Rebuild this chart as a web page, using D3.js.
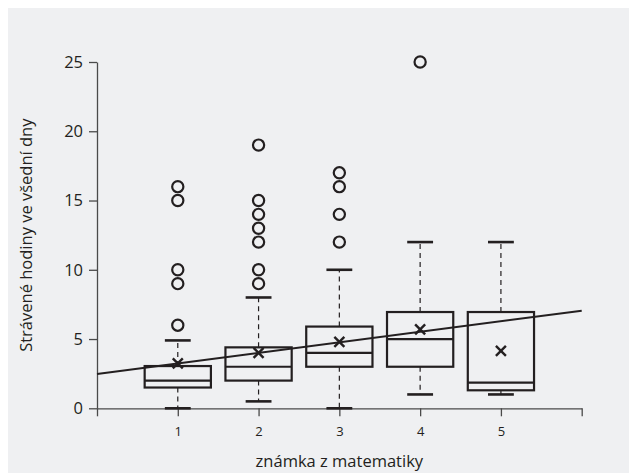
<!DOCTYPE html>
<html>
<head>
<meta charset="utf-8">
<script src="https://cdn.jsdelivr.net/npm/d3@7"></script>
<style>
  html, body { margin: 0; padding: 0; background: #ffffff; }
  svg { display: block; }
  .axis path, .axis line { stroke: #4a4a4a; stroke-width: 1.3; }
  .axis text { fill: #231f20; font-family: "Open Sans", sans-serif; font-weight: 500; }
</style>
</head>
<body>
<div id="chart"></div>
<script>
// ---- Data
const grades    = [1, 2, 3, 4, 5];
const whiskLow  = [0, 0.5, 0, 1, 1];
const q1        = [1.5, 2, 3, 3, 1.3];
const medians   = [2, 3, 4, 5, 1.85];
const q3        = [3.05, 4.4, 5.9, 6.95, 6.95];
const whiskHigh = [4.9, 8, 10, 12, 12];
const means     = [3.25, 4, 4.8, 5.7, 4.15];
const outliers  = [
    [6, 9, 10, 15, 16],
    [9, 10, 12, 13, 14, 15, 19],
    [12, 14, 16, 17],
    [25],
    []
];
const regX = [0, 6];
const regY = [2.48, 7.05];
const yTicks = [0, 5, 10, 15, 20, 25];
const xTicks = [0, 1, 2, 3, 4, 5, 6];

const W = 629, H = 473;
const ink = '#231f20';

const svg = d3.select('#chart').append('svg')
    .attr('width', W).attr('height', H);

// ---- Panel background
svg.append('rect')
    .attr('x', 8).attr('y', 8)
    .attr('width', W - 8).attr('height', H - 8)
    .attr('fill', '#eff0f2');

// ---- Scales
const x = d3.scaleLinear().domain([0, 6]).range([97, 581.7]);
const y = d3.scaleLinear().domain([0, 25]).range([408.3, 62]);
const boxW = x(0.82) - x(0);
const capW = x(0.32) - x(0);

// ---- Axes
const yAxis = svg.append('g').attr('class', 'axis')
    .attr('transform', `translate(${x(0)},0)`)
    .call(d3.axisLeft(y).tickValues(yTicks).tickSize(8).tickSizeOuter(0).tickPadding(6));
yAxis.selectAll('text').style('font-size', '16.5px');

const xAxis = svg.append('g').attr('class', 'axis')
    .attr('transform', `translate(0,${y(0)})`)
    .call(d3.axisBottom(x).tickValues(xTicks).tickSize(8).tickSizeOuter(0).tickPadding(10)
        .tickFormat(d => (d >= 1 && d <= 5) ? d : ''));
xAxis.selectAll('text').style('font-size', '13px');

// ---- Axis titles
svg.append('text')
    .attr('x', (x(0) + x(6)) / 2).attr('y', 467)
    .attr('text-anchor', 'middle')
    .attr('fill', ink)
    .style('font-family', '"Open Sans", sans-serif')
    .style('font-weight', 500)
    .style('font-size', '16.5px')
    .text('známka z matematiky');

svg.append('text')
    .attr('transform', `translate(32,${(y(0) + y(25)) / 2}) rotate(-90)`)
    .attr('text-anchor', 'middle')
    .attr('fill', ink)
    .style('font-family', '"Open Sans", sans-serif')
    .style('font-weight', 500)
    .style('font-size', '16.5px')
    .text('Strávené hodiny ve všední dny');

// ---- Boxes
const boxes = grades.map((g, i) => ({
    g, lo: whiskLow[i], q1: q1[i], med: medians[i], q3: q3[i], hi: whiskHigh[i], mean: means[i], out: outliers[i]
}));

const marks = svg.append('g');
const bg = marks.selectAll('g.box').data(boxes).join('g').attr('class', 'box');

// whiskers (dashed)
bg.append('line')
    .attr('x1', d => x(d.g)).attr('x2', d => x(d.g))
    .attr('y1', d => y(d.q3)).attr('y2', d => y(d.hi))
    .attr('stroke', ink).attr('stroke-width', 1.2).attr('stroke-dasharray', '5,4');
bg.append('line')
    .attr('x1', d => x(d.g)).attr('x2', d => x(d.g))
    .attr('y1', d => y(d.q1)).attr('y2', d => y(d.lo))
    .attr('stroke', ink).attr('stroke-width', 1.2).attr('stroke-dasharray', '5,4');

// caps
bg.selectAll('line.cap').data(d => [d.lo, d.hi].map(v => ({ g: d.g, v }))).join('line')
    .attr('class', 'cap')
    .attr('x1', d => x(d.g) - capW / 2).attr('x2', d => x(d.g) + capW / 2)
    .attr('y1', d => y(d.v)).attr('y2', d => y(d.v))
    .attr('stroke', ink).attr('stroke-width', 2.6);

// box
bg.append('rect')
    .attr('x', d => x(d.g) - boxW / 2)
    .attr('y', d => y(d.q3))
    .attr('width', boxW)
    .attr('height', d => y(d.q1) - y(d.q3))
    .attr('fill', 'none').attr('stroke', ink).attr('stroke-width', 2.2);

// median
bg.append('line')
    .attr('x1', d => x(d.g) - boxW / 2).attr('x2', d => x(d.g) + boxW / 2)
    .attr('y1', d => y(d.med)).attr('y2', d => y(d.med))
    .attr('stroke', ink).attr('stroke-width', 2.2);

// outliers
bg.selectAll('circle').data(d => d.out.map(v => ({ g: d.g, v }))).join('circle')
    .attr('cx', d => x(d.g)).attr('cy', d => y(d.v)).attr('r', 5.6)
    .attr('fill', 'none').attr('stroke', ink).attr('stroke-width', 2.2);

// regression line
svg.append('line')
    .attr('x1', x(regX[0])).attr('y1', y(regY[0]))
    .attr('x2', x(regX[1])).attr('y2', y(regY[1]))
    .attr('stroke', ink).attr('stroke-width', 2);

// means (×)
const s = 5;
const mg = svg.append('g').selectAll('g').data(boxes).join('g')
    .attr('transform', d => `translate(${x(d.g)},${y(d.mean)})`);
mg.append('line').attr('x1', -s).attr('y1', -s).attr('x2', s).attr('y2', s)
    .attr('stroke', ink).attr('stroke-width', 2.4);
mg.append('line').attr('x1', -s).attr('y1', s).attr('x2', s).attr('y2', -s)
    .attr('stroke', ink).attr('stroke-width', 2.4);
</script>
</body>
</html>
